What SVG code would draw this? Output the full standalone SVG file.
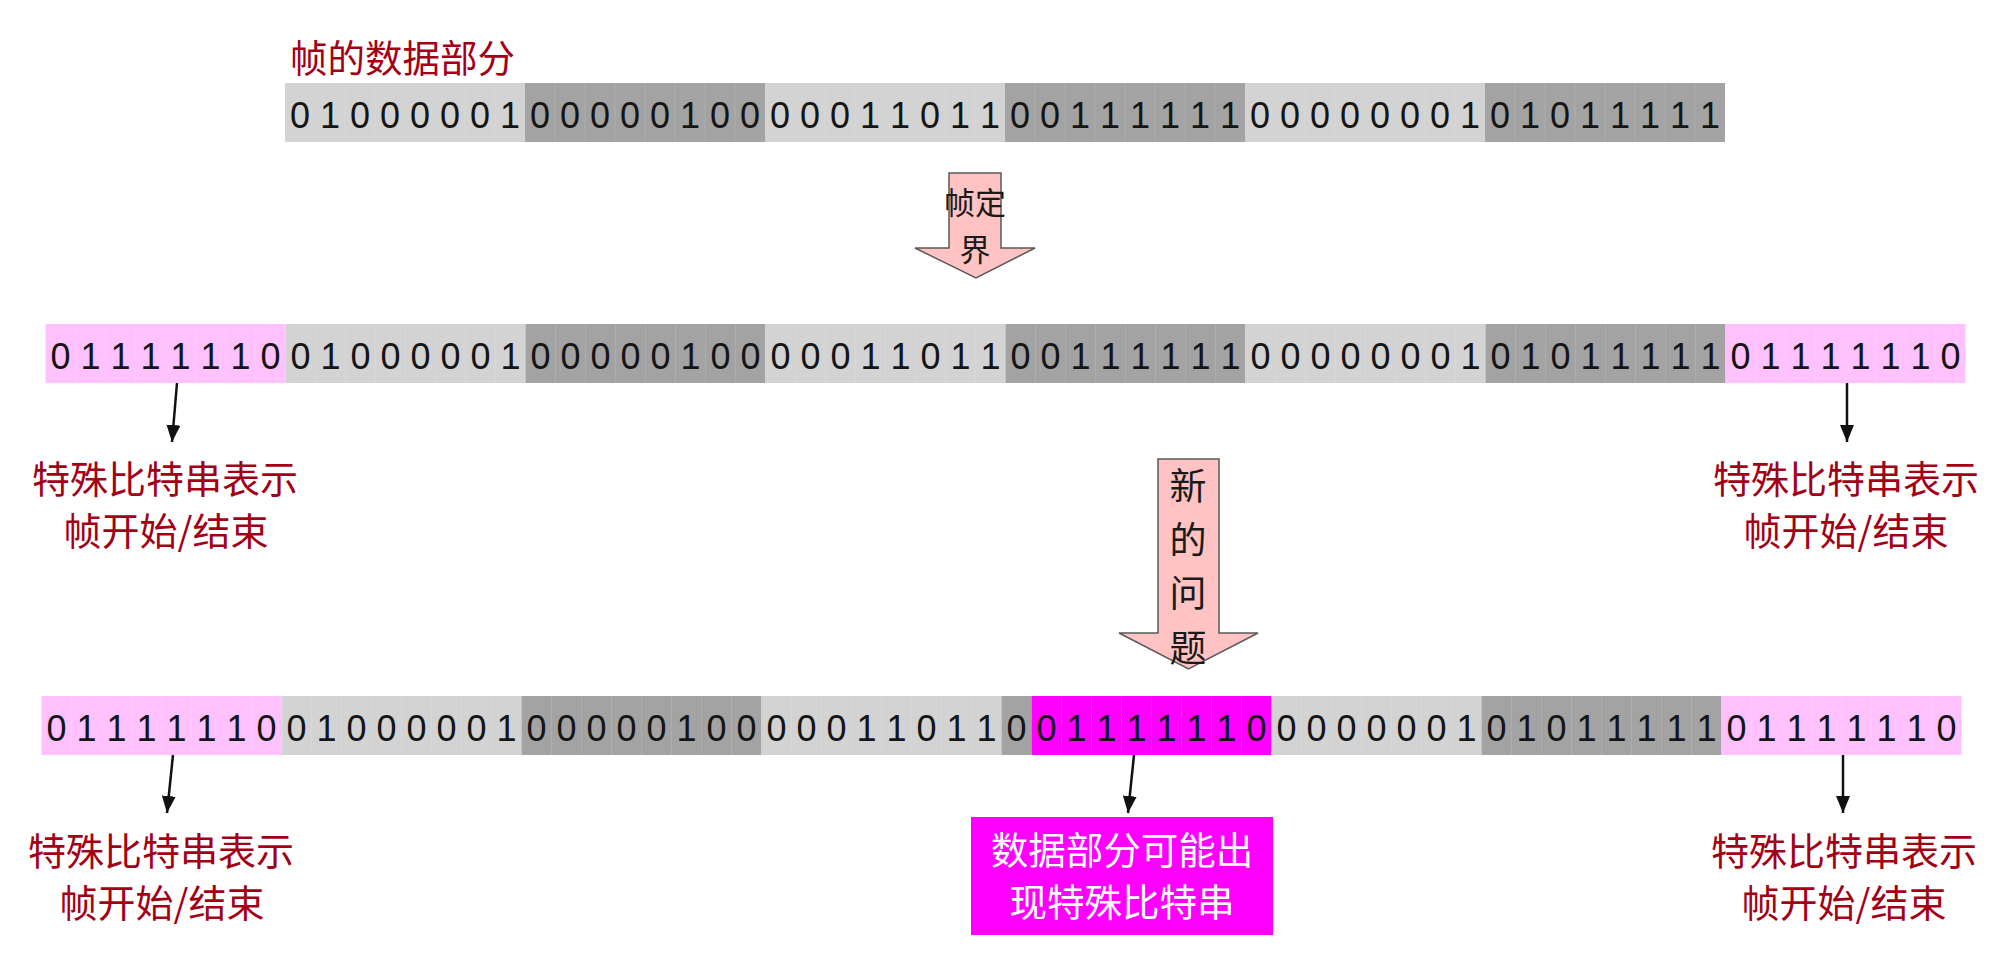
<svg xmlns="http://www.w3.org/2000/svg" width="2015" height="963" viewBox="0 0 2015 963">
<defs>
<style>
.bg{fill:#ffffff}
.lt{fill:#d3d3d3}
.dk{fill:#a3a3a3}
.pk{fill:#ffc2ff}
.mg{fill:#ff00ff}
.sep{stroke:#ffffff;stroke-opacity:0.13;stroke-width:1;fill:none}
.bits{font-family:"Liberation Sans",Arial,sans-serif;font-size:36px;fill:#151515;text-anchor:middle}
.red{font-family:"Noto Sans CJK SC",sans-serif;font-size:38px;fill:#a30016;text-anchor:middle}
.blk{fill:#ffc3c3;stroke:#5a5a5a;stroke-width:1.5}
.blkt{font-family:"Noto Sans CJK SC",sans-serif;fill:#1a1a1a;text-anchor:middle}
.wt{font-family:"Noto Sans CJK SC",sans-serif;font-size:37.5px;fill:#ffffff;text-anchor:middle}
.conn{stroke:#111111;stroke-width:2.5;fill:none}
</style>
<marker id="ah" markerUnits="userSpaceOnUse" markerWidth="17" markerHeight="14" refX="17" refY="7" orient="auto">
<path d="M0,0 L17,7 L0,14 z" fill="#111111"/>
</marker>
</defs>
<rect class="bg" x="0" y="0" width="2015" height="963"/>

<g id="title">
<text x="290" y="72" class="red" style="text-anchor:start;font-size:37.5px">帧的数据部分</text>
</g>

<g id="row1" transform="translate(285,83)">
<rect class="lt" x="0" y="0" width="240" height="59"/>
<rect class="dk" x="240" y="0" width="240" height="59"/>
<rect class="lt" x="480" y="0" width="240" height="59"/>
<rect class="dk" x="720" y="0" width="240" height="59"/>
<rect class="lt" x="960" y="0" width="240" height="59"/>
<rect class="dk" x="1200" y="0" width="240" height="59"/>
<path class="sep" d="M30,0V59M60,0V59M90,0V59M120,0V59M150,0V59M180,0V59M210,0V59M270,0V59M300,0V59M330,0V59M360,0V59M390,0V59M420,0V59M450,0V59M510,0V59M540,0V59M570,0V59M600,0V59M630,0V59M660,0V59M690,0V59M750,0V59M780,0V59M810,0V59M840,0V59M870,0V59M900,0V59M930,0V59M990,0V59M1020,0V59M1050,0V59M1080,0V59M1110,0V59M1140,0V59M1170,0V59M1230,0V59M1260,0V59M1290,0V59M1320,0V59M1350,0V59M1380,0V59M1410,0V59"/>
<text class="bits" y="44.5" x="15 45 75 105 135 165 195 225 255 285 315 345 375 405 435 465 495 525 555 585 615 645 675 705 735 765 795 825 855 885 915 945 975 1005 1035 1065 1095 1125 1155 1185 1215 1245 1275 1305 1335 1365 1395 1425">010000010000010000011011001111110000000101011111</text>
</g>

<g id="arrow-framing">
<polygon class="blk" points="949,173 1001,173 1001,248 1035,248 976,278 915,248 949,248"/>
<text class="blkt" x="975" y="214" style="font-size:31px">帧定</text>
<text class="blkt" x="975" y="261" style="font-size:31px">界</text>
</g>

<g id="row2" transform="translate(45.5,324)">
<rect class="pk" x="0" y="0" width="240" height="59"/>
<rect class="lt" x="240" y="0" width="240" height="59"/>
<rect class="dk" x="480" y="0" width="240" height="59"/>
<rect class="lt" x="720" y="0" width="240" height="59"/>
<rect class="dk" x="960" y="0" width="240" height="59"/>
<rect class="lt" x="1200" y="0" width="240" height="59"/>
<rect class="dk" x="1440" y="0" width="240" height="59"/>
<rect class="pk" x="1680" y="0" width="240" height="59"/>
<path class="sep" d="M30,0V59M60,0V59M90,0V59M120,0V59M150,0V59M180,0V59M210,0V59M270,0V59M300,0V59M330,0V59M360,0V59M390,0V59M420,0V59M450,0V59M510,0V59M540,0V59M570,0V59M600,0V59M630,0V59M660,0V59M690,0V59M750,0V59M780,0V59M810,0V59M840,0V59M870,0V59M900,0V59M930,0V59M990,0V59M1020,0V59M1050,0V59M1080,0V59M1110,0V59M1140,0V59M1170,0V59M1230,0V59M1260,0V59M1290,0V59M1320,0V59M1350,0V59M1380,0V59M1410,0V59M1470,0V59M1500,0V59M1530,0V59M1560,0V59M1590,0V59M1620,0V59M1650,0V59M1710,0V59M1740,0V59M1770,0V59M1800,0V59M1830,0V59M1860,0V59M1890,0V59"/>
<text class="bits" y="44.5" x="15 45 75 105 135 165 195 225 255 285 315 345 375 405 435 465 495 525 555 585 615 645 675 705 735 765 795 825 855 885 915 945 975 1005 1035 1065 1095 1125 1155 1185 1215 1245 1275 1305 1335 1365 1395 1425 1455 1485 1515 1545 1575 1605 1635 1665 1695 1725 1755 1785 1815 1845 1875 1905">0111111001000001000001000001101100111111000000010101111101111110</text>
</g>

<g id="label-row2-left">
<text class="red" x="165" y="493">特殊比特串表示</text>
<text class="red" x="166" y="545">帧开始/结束</text>
</g>
<g id="label-row2-right">
<text class="red" x="1846" y="493">特殊比特串表示</text>
<text class="red" x="1846" y="545">帧开始/结束</text>
</g>

<g id="arrow-problem">
<polygon class="blk" points="1158,459 1219,459 1219,633 1258,633 1188.5,669 1119,633 1158,633"/>
<text class="blkt" x="1188" y="500" style="font-size:37px">新</text>
<text class="blkt" x="1188" y="554" style="font-size:37px">的</text>
<text class="blkt" x="1188" y="607" style="font-size:37px">问</text>
<text class="blkt" x="1188" y="662" style="font-size:37px">题</text>
</g>

<g id="row3" transform="translate(41.5,696)">
<rect class="pk" x="0" y="0" width="240" height="59"/>
<rect class="lt" x="240" y="0" width="240" height="59"/>
<rect class="dk" x="480" y="0" width="240" height="59"/>
<rect class="lt" x="720" y="0" width="240" height="59"/>
<rect class="dk" x="960" y="0" width="30" height="59"/>
<rect class="mg" x="990" y="0" width="240" height="59"/>
<rect class="lt" x="1230" y="0" width="210" height="59"/>
<rect class="dk" x="1440" y="0" width="240" height="59"/>
<rect class="pk" x="1680" y="0" width="240" height="59"/>
<path class="sep" d="M30,0V59M60,0V59M90,0V59M120,0V59M150,0V59M180,0V59M210,0V59M270,0V59M300,0V59M330,0V59M360,0V59M390,0V59M420,0V59M450,0V59M510,0V59M540,0V59M570,0V59M600,0V59M630,0V59M660,0V59M690,0V59M750,0V59M780,0V59M810,0V59M840,0V59M870,0V59M900,0V59M930,0V59M1020,0V59M1050,0V59M1080,0V59M1110,0V59M1140,0V59M1170,0V59M1200,0V59M1260,0V59M1290,0V59M1320,0V59M1350,0V59M1380,0V59M1410,0V59M1470,0V59M1500,0V59M1530,0V59M1560,0V59M1590,0V59M1620,0V59M1650,0V59M1710,0V59M1740,0V59M1770,0V59M1800,0V59M1830,0V59M1860,0V59M1890,0V59"/>
<text class="bits" y="44.5" x="15 45 75 105 135 165 195 225 255 285 315 345 375 405 435 465 495 525 555 585 615 645 675 705 735 765 795 825 855 885 915 945 975 1005 1035 1065 1095 1125 1155 1185 1215 1245 1275 1305 1335 1365 1395 1425 1455 1485 1515 1545 1575 1605 1635 1665 1695 1725 1755 1785 1815 1845 1875 1905">0111111001000001000001000001101100111111000000010101111101111110</text>
</g>

<g id="label-row3-left">
<text class="red" x="161" y="865">特殊比特串表示</text>
<text class="red" x="162" y="917">帧开始/结束</text>
</g>
<g id="label-row3-middle">
<rect class="mg" x="971" y="817" width="302" height="118"/>
<text class="wt" x="1122" y="864">数据部分可能出</text>
<text class="wt" x="1122" y="916">现特殊比特串</text>
</g>
<g id="label-row3-right">
<text class="red" x="1844" y="865">特殊比特串表示</text>
<text class="red" x="1844" y="917">帧开始/结束</text>
</g>

<g id="connectors">
<line class="conn" x1="177" y1="383" x2="172" y2="442" marker-end="url(#ah)"/>
<line class="conn" x1="1847" y1="383" x2="1847" y2="442" marker-end="url(#ah)"/>
<line class="conn" x1="173" y1="755" x2="167" y2="813" marker-end="url(#ah)"/>
<line class="conn" x1="1134" y1="755" x2="1128" y2="813" marker-end="url(#ah)"/>
<line class="conn" x1="1843" y1="755" x2="1843" y2="813" marker-end="url(#ah)"/>
</g>
</svg>
